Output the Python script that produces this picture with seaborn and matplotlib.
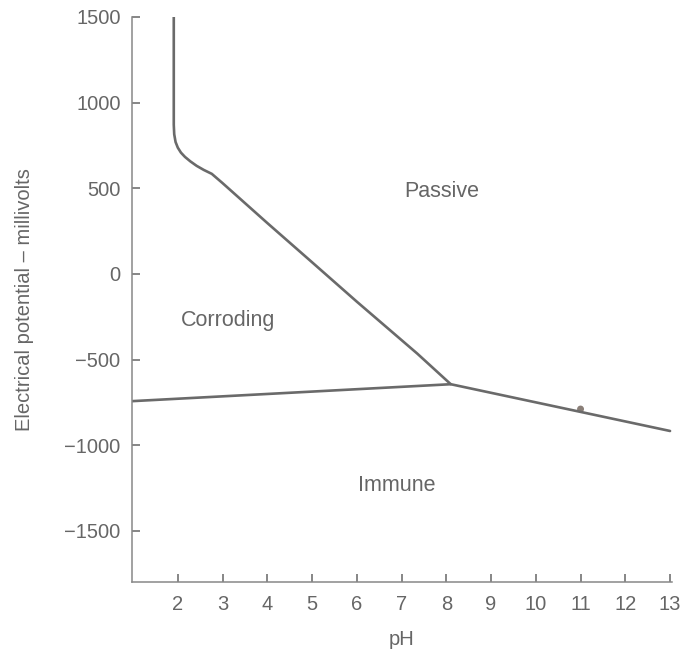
import matplotlib
matplotlib.use("Agg")
import matplotlib.pyplot as plt
import seaborn as sns
import pandas as pd

# Data
boundary_ph = [1.91, 1.91, 1.92, 1.95, 2.0, 2.07, 2.16, 2.28, 2.42, 2.58, 2.76, 3.0, 4.0, 5.0, 6.0, 7.35, 8.1]
boundary_mv = [1500, 870, 815, 770, 737, 708, 683, 657, 631, 607, 584, 530, 297, 68, -162, -465, -644]
immune_ph = [0.97, 8.1, 13.0]
immune_mv = [-743, -644, -917]
dot_ph = [11.0]
dot_mv = [-789]
region_labels = ["Passive", "Corroding", "Immune"]
region_ph = [7.9, 3.12, 6.9]
region_mv = [480, -270, -1238]
x_ticks = [2, 3, 4, 5, 6, 7, 8, 9, 10, 11, 12, 13]
y_ticks = [-1500, -1000, -500, 0, 500, 1000, 1500]

sns.set_style("ticks")
plt.rcParams['font.family'] = ['Liberation Sans', 'DejaVu Sans']
gray_text = "#666666"
gray_line = "#6a6a6a"

fig = plt.figure(figsize=(6.86, 6.52), dpi=100)
ax = fig.add_axes([0.192, 0.107, 0.788, 0.867])

df_b = pd.DataFrame({"ph": boundary_ph, "mv": boundary_mv})
df_i = pd.DataFrame({"ph": immune_ph, "mv": immune_mv})
sns.lineplot(data=df_b, x="ph", y="mv", sort=False, estimator=None, ax=ax, color=gray_line, lw=1.9)
sns.lineplot(data=df_i, x="ph", y="mv", sort=False, estimator=None, ax=ax, color=gray_line, lw=1.9)
sns.scatterplot(x=dot_ph, y=dot_mv, ax=ax, color="#8a7f78", s=25, edgecolor="none")

for lab, px, py in zip(region_labels, region_ph, region_mv):
    ax.text(px, py, lab, ha="center", va="center", fontsize=15.5, color=gray_text)

ax.set_xlim(0.97, 13.05)
ax.set_ylim(-1800, 1500)
ax.set_xticks(x_ticks)
ax.set_yticks(y_ticks)
ax.set_yticklabels([str(v).replace("-", "\u2212") for v in y_ticks])
ax.set_xlabel("pH", fontsize=14.5, color=gray_text, labelpad=12)
ax.set_ylabel("Electrical potential \u2013 millivolts", fontsize=14.5, color=gray_text, labelpad=22)
ax.tick_params(axis="both", labelsize=14.5, colors=gray_text, length=6, width=1.1, direction="in", pad=8)
ax.tick_params(axis="x", pad=9)
for s in ["top", "right"]:
    ax.spines[s].set_visible(False)
for s in ["left", "bottom"]:
    ax.spines[s].set_color("#888888")
    ax.spines[s].set_linewidth(1.1)

fig.savefig("out.png", dpi=100)
